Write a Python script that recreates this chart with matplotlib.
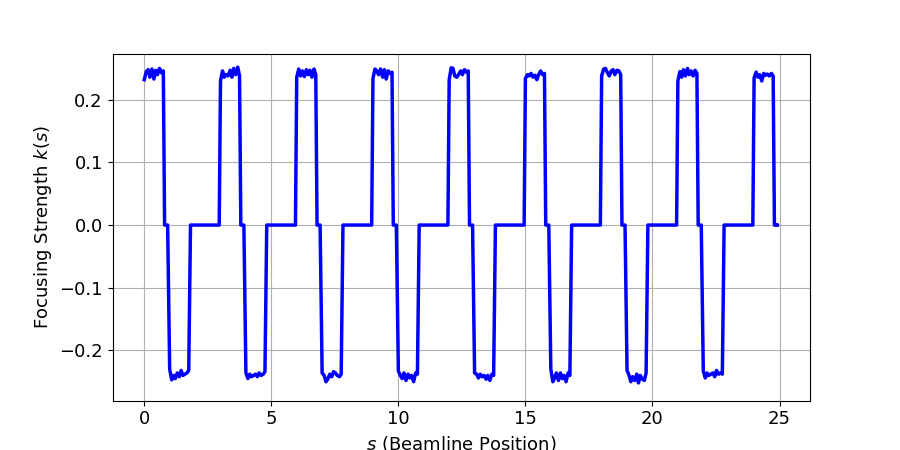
import matplotlib
matplotlib.use("Agg")
import matplotlib.pyplot as plt
import numpy as np

# lattice: 9 FODO periods, 3 m long
period_starts = [0, 3, 6, 9, 12, 15, 18, 21, 24]

# focusing plateau samples (offset within period, k)
f_off = [0.00, 0.08, 0.15, 0.22, 0.30, 0.38, 0.45, 0.52, 0.60, 0.68, 0.75]
f_vals = [
    [0.232, 0.245, 0.248, 0.236, 0.249, 0.233, 0.247, 0.240, 0.250, 0.243, 0.246],
    [0.230, 0.246, 0.236, 0.240, 0.238, 0.247, 0.236, 0.250, 0.240, 0.252, 0.238],
    [0.236, 0.249, 0.238, 0.246, 0.237, 0.248, 0.240, 0.247, 0.236, 0.249, 0.240],
    [0.234, 0.249, 0.246, 0.240, 0.249, 0.236, 0.248, 0.233, 0.246, 0.242, 0.244],
    [0.232, 0.251, 0.250, 0.238, 0.236, 0.241, 0.246, 0.240, 0.248, 0.244, 0.246],
    [0.234, 0.240, 0.238, 0.242, 0.236, 0.239, 0.232, 0.240, 0.246, 0.240, 0.242],
    [0.238, 0.249, 0.250, 0.244, 0.238, 0.246, 0.248, 0.240, 0.247, 0.246, 0.240],
    [0.230, 0.245, 0.236, 0.248, 0.238, 0.250, 0.240, 0.246, 0.238, 0.247, 0.242],
    [0.235, 0.244, 0.236, 0.240, 0.230, 0.242, 0.239, 0.241, 0.238, 0.242, 0.238],
]
# defocusing plateau samples
d_off = [1.00, 1.08, 1.15, 1.22, 1.30, 1.38, 1.45, 1.52, 1.60, 1.68, 1.75]
d_vals = [
    [-0.230, -0.247, -0.240, -0.245, -0.236, -0.242, -0.232, -0.240, -0.238, -0.236, -0.232],
    [-0.236, -0.245, -0.238, -0.242, -0.240, -0.238, -0.242, -0.236, -0.240, -0.238, -0.234],
    [-0.236, -0.240, -0.250, -0.246, -0.238, -0.242, -0.234, -0.236, -0.240, -0.242, -0.238],
    [-0.233, -0.240, -0.245, -0.236, -0.248, -0.238, -0.244, -0.240, -0.250, -0.236, -0.238],
    [-0.236, -0.238, -0.244, -0.238, -0.242, -0.240, -0.246, -0.240, -0.248, -0.238, -0.240],
    [-0.230, -0.250, -0.244, -0.236, -0.248, -0.236, -0.245, -0.240, -0.250, -0.236, -0.240],
    [-0.232, -0.240, -0.250, -0.242, -0.248, -0.238, -0.252, -0.240, -0.246, -0.248, -0.236],
    [-0.233, -0.244, -0.236, -0.240, -0.238, -0.236, -0.242, -0.232, -0.238, -0.236, -0.238],
    [],
]

s, k = [], []
for i, x0 in enumerate(period_starts):
    if i > 0:
        s.append(x0 - 0.05); k.append(0.0)
    s += [x0 + o for o in f_off]; k += f_vals[i]
    s += [x0 + 0.80, x0 + 0.92]; k += [0.0, 0.0]
    if d_vals[i]:
        s += [x0 + o for o in d_off]; k += d_vals[i]
        s.append(x0 + 1.82); k.append(0.0)
    else:
        s[-1] = x0 + 0.92
s.append(24.9); k.append(0.0)

plt.rcParams['font.size'] = 13
fig, ax = plt.subplots(figsize=(9, 4.5), dpi=100)
fig.subplots_adjust(left=0.125, right=0.9, top=0.88, bottom=0.11)
ax.plot(s, k, color='blue', lw=2.5)
ax.set_xlabel('$s$ (Beamline Position)')
ax.set_ylabel('Focusing Strength $k(s)$')
ax.set_xlim(-1.25, 26.2)
ax.set_ylim(-0.28, 0.273)
ax.set_yticks([-0.2, -0.1, 0.0, 0.1, 0.2])
ax.grid(True)
fig.savefig('out.png')
